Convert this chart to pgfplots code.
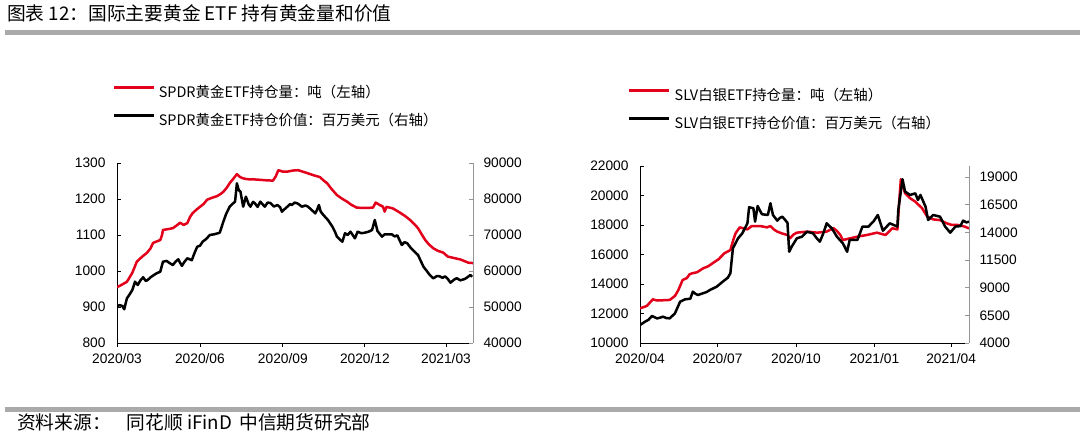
\documentclass[border=0pt]{standalone}
\usepackage{pgfplots}
\pgfplotsset{compat=1.18}
\usepackage{fontspec}
\setmainfont{Liberation Sans}
\newfontfamily\cjk{Noto Sans CJK SC}

\definecolor{lred}{RGB}{226,0,26}
\definecolor{rulegray}{RGB}{170,170,170}
\definecolor{axgray}{RGB}{150,150,150}

\pgfplotsset{
  base/.style={
    scale only axis,
    /pgf/number format/assume math mode=true,
    /pgf/number format/1000 sep={},
    scaled y ticks=false,
    tick label style={font=\fontsize{13.8}{15}\selectfont, text=black},
    xticklabel style={yshift=-3bp},
    axis line style={-, line width=0.8pt},
    major tick length=4bp,
    tick align=outside,
  },
  leg/.style={
    legend cell align=left,
    legend style={at={(axis description cs:0,1)}, anchor=south west,
      draw=none, fill=none, inner sep=0pt, row sep=10bp,
      font=\cjk\fontsize{14.5}{16}\selectfont,
      /tikz/every odd column/.append style={column sep=2bp}},
    legend image code/.code={\draw[##1] (0bp,4.5bp) -- (40bp,4.5bp);},
  },
}

\begin{document}
\begin{tikzpicture}[x=1bp,y=1bp]
\path[use as bounding box] (0,0) rectangle (1080,442);

% title and rules
\node[anchor=west, inner sep=0pt, font=\cjk\fontsize{18.8}{20}\selectfont] at (7,429) {图表 12：国际主要黄金 ETF 持有黄金量和价值};
\fill[rulegray] (5,407) rectangle (1080,412);
\fill[rulegray] (5,30) rectangle (1080,35);
\node[anchor=west, inner sep=0pt, font=\cjk\fontsize{18.8}{20}\selectfont] at (17,20) {资料来源：\hspace{16bp}同花顺 iFinD\hspace{3bp} 中信期货研究部};

% ---------------- left chart: SPDR gold ----------------
\begin{axis}[base, at={(117bp,99bp)}, anchor=south west, width=356bp, height=180bp,
  xmin=0, xmax=395, ymin=800, ymax=1300, ytick={800,900,...,1300},
  axis x line*=bottom, axis y line*=left,
  xtick={0,92,184,275,365},
  xticklabels={2020/03,2020/06,2020/09,2020/12,2021/03},
  tick style={black, line width=0.8pt},
  ytick style={xshift=4bp},
  yticklabel style={xshift=-4bp},
]
\addplot[lred, line width=2.5bp, line join=round] coordinates {
(0,955) (4,960) (11,970) (17,995) (22,1026) (28,1040) (33,1050) (37,1062) (40,1078)
(44,1082) (48,1086) (50,1100) (51,1114) (56,1116) (62,1119) (66,1126) (70,1134)
(74,1128) (78,1133) (81,1150) (84,1161) (88,1170) (92,1178) (96,1186) (100,1198)
(105,1203) (111,1208) (115,1214) (118,1220) (122,1232) (125,1244) (129,1256) (133,1269)
(136,1262) (139,1258) (144,1255) (155,1254) (165,1252) (173,1251) (176,1262) (179,1280)
(184,1276) (189,1276) (195,1279) (201,1280) (206,1276) (211,1272) (218,1266) (225,1261)
(229,1252) (233,1244) (238,1228) (244,1211) (249,1202) (255,1193) (260,1184) (266,1176)
(275,1175) (284,1176) (287,1190) (291,1184) (295,1179) (297,1165) (299,1178) (306,1174)
(310,1168) (314,1162) (320,1152) (325,1142) (330,1130) (334,1119) (338,1102) (342,1086)
(346,1074) (351,1063) (356,1056) (362,1051) (367,1040) (374,1036) (381,1032) (386,1027)
(390,1023) (395,1022)
};
\end{axis}

\begin{axis}[base, leg, at={(117bp,99bp)}, anchor=south west, width=356bp, height=180bp,
  xmin=0, xmax=395, ymin=40000, ymax=90000, ytick={40000,50000,...,90000},
  axis x line=none, axis y line*=right,
  y axis line style={axgray},
  tick style={axgray, line width=0.8pt},
  ytick style={xshift=-4bp},
  yticklabel style={xshift=3bp},
  legend style={xshift=-5bp, yshift=34bp},
]
\addlegendimage{lred, line width=2.6bp}
\addlegendentry{SPDR黄金ETF持仓量：吨（左轴）}
\addplot[black, line width=2.5bp, line join=round] coordinates {
(0,50275) (3,50500) (6,50275) (8,49360) (11,52400) (14,53500) (17,54720) (20,57030)
(23,56100) (26,57400) (29,58250) (32,57200) (34,57500) (38,58400) (41,58900) (44,59360)
(48,59800) (51,62580) (55,62800) (59,62100) (62,61660) (65,62600) (68,63250) (70,62300)
(72,61430) (75,62600) (78,63530) (83,63000) (86,65000) (89,66750) (92,67000) (95,68140)
(99,68900) (103,70000) (108,70200) (114,70640) (118,73700) (121,75800) (125,77860)
(128,78600) (131,79250) (133,84360) (135,82500) (137,82030) (140,77860) (143,80640)
(146,78600) (148,77860) (151,79200) (153,78800) (156,77800) (159,79250) (162,78400)
(164,77860) (167,79000) (170,78900) (174,77900) (178,78330) (181,77700) (183,76470)
(186,77200) (189,77860) (192,78600) (194,78330) (197,79000) (200,78800) (203,78300)
(205,77860) (209,78200) (212,77860) (216,76940) (220,76010) (222,77000) (224,78330)
(226,76500) (229,75550) (234,74170) (239,72300) (242,70800) (244,69540) (247,68800)
(250,68140) (253,70470) (256,70000) (259,70920) (264,69080) (267,70920) (271,70500)
(275,70640) (279,70900) (283,71390) (286,74170) (289,71100) (294,69540) (297,70200)
(300,70170) (305,70170) (308,69600) (311,69900) (316,67220) (319,68000) (322,67700)
(326,66400) (329,65640) (334,64440) (337,62800) (340,61210) (344,59900) (347,58890)
(351,57960) (355,58600) (358,58520) (361,58100) (364,58500) (367,57800) (370,56750)
(374,57600) (377,58000) (381,57400) (386,57800) (389,58300) (392,58890) (394,58400)
};
\addlegendentry{SPDR黄金ETF持仓价值：百万美元（右轴）}
\end{axis}

% ---------------- right chart: SLV silver ----------------
\begin{axis}[base, at={(640bp,99bp)}, anchor=south west, width=329bp, height=177bp,
  xmin=0, xmax=386, ymin=10000, ymax=22000, ytick={10000,12000,...,22000},
  axis x line*=bottom, axis y line*=left,
  xtick={0,91,183,275,365},
  xticklabels={2020/04,2020/07,2020/10,2021/01,2021/04},
  tick style={black, line width=0.8pt},
  ytick style={xshift=4bp},
  yticklabel style={xshift=-4bp},
]
\addplot[lred, line width=2.5bp, line join=round] coordinates {
(0,12350) (8,12510) (15,12960) (20,12880) (28,12900) (35,12920) (41,13190) (45,13590)
(50,14270) (55,14400) (58,14650) (61,14720) (67,14800) (74,15060) (80,15200) (85,15400)
(92,15670) (99,16080) (106,16300) (109,16900) (112,17430) (117,17840) (126,17700)
(131,17930) (141,17930) (149,17840) (153,17930) (157,17700) (161,17550) (167,17420)
(173,17320) (176,17100) (180,17350) (184,17480) (196,17550) (208,17480) (219,17550)
(227,17780) (231,17600) (235,17320) (238,16980) (246,17090) (255,17210) (266,17320)
(278,17480) (288,17320) (296,17780) (302,17700) (304,19500) (306,21100) (311,20150)
(317,19810) (323,19580) (331,19130) (337,18560) (344,18380) (352,18330) (360,18110)
(366,18000) (373,18000) (381,17890) (386,17770)
};
\end{axis}

\begin{axis}[base, leg, at={(640bp,99bp)}, anchor=south west, width=329bp, height=177bp,
  xmin=0, xmax=386, ymin=4000, ymax=20000, ytick={4000,6500,...,19000},
  axis x line=none, axis y line*=right,
  y axis line style={axgray},
  tick style={axgray, line width=0.8pt},
  ytick style={xshift=-4bp},
  yticklabel style={xshift=3bp},
  legend style={xshift=-12bp, yshift=34bp},
]
\addlegendimage{lred, line width=2.4bp}
\addlegendentry{SLV白银ETF持仓量：吨（左轴）}
\addplot[black, line width=2.5bp, line join=round] coordinates {
(0,5626) (6,5930) (10,6100) (14,6440) (20,6220) (24,6300) (27,6380) (31,6250) (35,6230)
(41,6680) (44,7200) (47,7730) (53,7950) (59,8000) (62,8640) (65,8450) (68,8340) (74,8500)
(78,8600) (82,8790) (90,9090) (97,9540) (103,9900) (106,10300) (109,12560) (115,13460)
(120,13910) (126,14820) (128,16270) (133,16180) (135,14970) (138,16380) (143,15640)
(150,15570) (153,16630) (156,15570) (161,15060) (164,15300) (167,15420) (173,14870)
(175,12250) (178,12710) (184,13460) (190,13610) (196,14060) (203,13910) (207,13500)
(211,13160) (215,13900) (219,14820) (225,14370) (231,13610) (238,13010) (243,12250)
(246,13310) (255,13310) (261,14520) (268,14520) (274,15000) (279,15570) (285,14150)
(293,14820) (302,14520) (303,16020) (308,18800) (311,17680) (317,17380) (323,17530)
(326,16930) (329,17380) (335,16320) (338,15120) (344,15570) (352,15420) (358,14520)
(364,13970) (370,14520) (376,14570) (379,15060) (383,14900) (386,14970)
};
\addlegendentry{SLV白银ETF持仓价值：百万美元（右轴）}
\end{axis}
\end{tikzpicture}
\end{document}
